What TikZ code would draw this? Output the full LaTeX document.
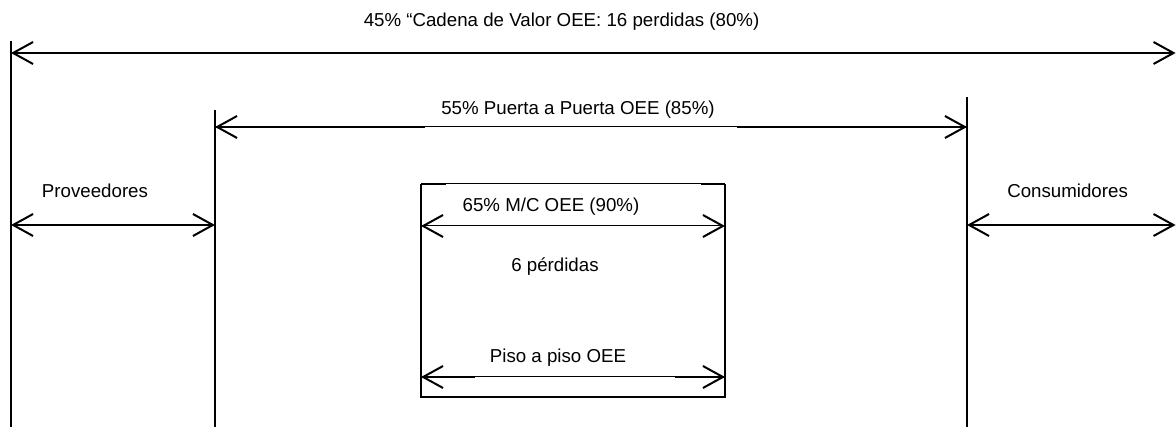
\documentclass[tikz,border=0pt]{standalone}
\usepackage{fontspec}
\setmainfont{Liberation Sans}
\usetikzlibrary{arrows.meta}
\begin{document}
\begin{tikzpicture}[
    thick line/.style={line width=0.05cm},
    thin line/.style={line width=0.025cm},
    dimarrow/.style={{Straight Barb[length=0.5cm,width=0.55cm,line width=0.05cm]}-{Straight Barb[length=0.5cm,width=0.55cm,line width=0.05cm]}},
    label text/.style={inner sep=0pt}
  ]
                        \useasboundingbox (0,0) rectangle (29.400000,10.675000);
                        {\fontsize{13.3}{16}\selectfont

                        % Marking limits of the value chain
                        \coordinate (chainTop) at (0.275000,9.650000);
                        \coordinate (chainBottom) at (0.275000,0.000000);
                        \coordinate (chainLeft) at (0.275000,9.350000);
                        \coordinate (chainRight) at (29.390000,9.350000);

                        % Marking limits of door to door
                        \coordinate (doorLeftTop) at (5.375000,7.925000);
                        \coordinate (doorLeftBottom) at (5.375000,0.000000);
                        \coordinate (doorRightTop) at (24.175000,8.250000);
                        \coordinate (doorRightBottom) at (24.175000,0.000000);
                        \coordinate (doorLeft) at (5.375000,7.500000);
                        \coordinate (doorRight) at (24.175000,7.500000);

                        % Marking ends of side arrows
                        \coordinate (provLeft) at (0.275000,5.050000);
                        \coordinate (provRight) at (5.375000,5.050000);
                        \coordinate (consLeft) at (24.175000,5.050000);
                        \coordinate (consRight) at (29.390000,5.050000);

                        % Marking corners of machine box
                        \coordinate (boxNW) at (10.525000,6.075000);
                        \coordinate (boxNE) at (18.125000,6.075000);
                        \coordinate (boxSW) at (10.525000,0.750000);
                        \coordinate (boxSE) at (18.125000,0.750000);
                        \coordinate (mcLeft) at (10.525000,5.025000);
                        \coordinate (mcRight) at (18.125000,5.025000);
                        \coordinate (floorLeft) at (10.525000,1.250000);
                        \coordinate (floorRight) at (18.125000,1.250000);

                        % Drawing line chain
                        \draw [thick line] (chainTop) -- (chainBottom);%
                        \draw [thick line,dimarrow] (chainLeft) -- (chainRight);%

                        % Drawing line door
                        \draw [thick line] (doorLeftTop) -- (doorLeftBottom);%
                        \draw [thick line] (doorRightTop) -- (doorRightBottom);%
                        \draw [thin line,dimarrow] (doorLeft) -- (doorRight);%
                        \draw [thick line] (doorLeft) -- ++(5.250000,0);%
                        \draw [thick line] (doorRight) -- ++(-5.750000,0);%

                        % Drawing line suppliers and customers
                        \draw [thick line,dimarrow] (provLeft) -- (provRight);%
                        \draw [thick line,dimarrow] (consLeft) -- (consRight);%

                        % Drawing line box
                        \draw [thick line] (boxNW) -- (boxSW) -- (boxSE) -- (boxNE);%
                        \draw [thin line] (boxNW) -- (boxNE);%
                        \draw [thick line] (boxNW) -- ++(0.625000,0);%
                        \draw [thick line] (boxNE) -- ++(-0.600000,0);%

                        % Drawing line machine and floor
                        \draw [thin line,dimarrow] (mcLeft) -- (mcRight);%
                        \draw [thin line,dimarrow] (floorLeft) -- (floorRight);%
                        \draw [thick line] (floorLeft) -- ++(1.350000,0);%
                        \draw [thick line] (floorRight) -- ++(-1.250000,0);%

                        % Marking point chainText
                        \node [label text] (chainText) at (14.040000,10.125000) {45\% “Cadena de Valor OEE: 16 perdidas (80\%)};%

                        % Marking point doorText
                        \node [label text] (doorText) at (14.450000,7.925000) {55\% Puerta a Puerta OEE (85\%)};%

                        % Marking point provText
                        \node [label text] (provText) at (2.375000,5.900000) {Proveedores};%

                        % Marking point consText
                        \node [label text] (consText) at (26.690000,5.900000) {Consumidores};%

                        % Marking point mcText
                        \node [label text] (mcText) at (13.775000,5.500000) {65\% M/C OEE (90\%)};%

                        % Marking point lossText
                        \node [label text] (lossText) at (13.875000,4.000000) {6 pérdidas};%

                        % Marking point floorText
                        \node [label text] (floorText) at (13.950000,1.725000) {Piso a piso OEE};%
                        }
\end{tikzpicture}
\end{document}
